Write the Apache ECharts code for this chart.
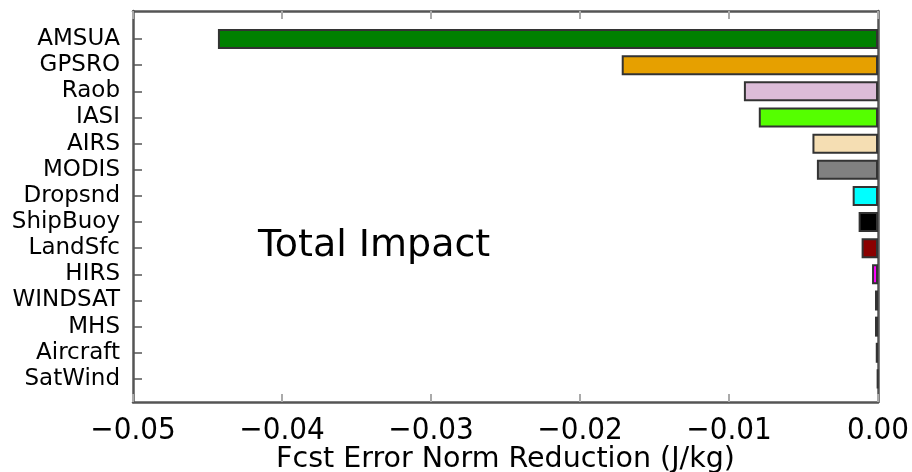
<!DOCTYPE html>
<html>
<head>
<meta charset="utf-8">
<script src="https://cdn.jsdelivr.net/npm/echarts@6/dist/echarts.min.js"></script>
<style>html,body{margin:0;padding:0;background:#fff;}#c{width:912px;height:472px;}</style>
</head>
<body>
<div id="c"></div>
<script>
const categories = ['AMSUA','GPSRO','Raob','IASI','AIRS','MODIS','Dropsnd','ShipBuoy','LandSfc','HIRS','WINDSAT','MHS','Aircraft','SatWind'];
const values = [-0.0443, -0.0172, -0.0090, -0.0080, -0.0044, -0.0041, -0.0017, -0.0013, -0.0011, -0.0004, -0.0002, -0.0002, -0.00015, -0.00005];
const xTickMin = -0.05;
const xTickMax = 0.0;
const xTickStep = 0.01;
const xAxisTitle = 'Fcst Error Norm Reduction (J/kg)';
const annotation = 'Total Impact';

const barColors = ['#008000','#e6a000','#dcbcd8','#55ff00','#f5deb3','#808080','#00ffff','#000000','#8b0000','#ff00ff','#000000','#000000','#000000','#000000'];

const chart = echarts.init(document.getElementById('c'), null, {renderer:'canvas'});
const frameLine = {show:true, onZero:false, lineStyle:{color:'#555', width:2.5}};
const fmt = v => { const r = Math.round(v*100)/100; return (r < 0 ? '\u2212' : '') + Math.abs(r).toFixed(2); };

chart.setOption({
  animation:false,
  backgroundColor:'#fff',
  grid:[
    {left:133, right:34, top:11, bottom:70, containLabel:false, outerBoundsMode:'none'},
    {left:133, right:34, top:26, bottom:80, containLabel:false, outerBoundsMode:'none'}
  ],
  xAxis:[
    {type:'value', gridIndex:0, position:'bottom', min:xTickMin, max:xTickMax, interval:xTickStep,
     axisLine:frameLine, axisTick:{show:true, inside:true, length:8, lineStyle:{color:'#aaa', width:2}},
     splitLine:{show:false},
     axisLabel:{formatter:fmt, fontFamily:'DejaVu Sans Condensed', fontSize:31, color:'#000', margin:13},
     name:xAxisTitle, nameLocation:'middle', nameGap:43, nameMoveOverlap:false,
     nameTextStyle:{fontFamily:'DejaVu Sans', fontSize:28.5, color:'#000'}},
    {type:'value', gridIndex:0, position:'top', min:xTickMin, max:xTickMax, interval:xTickStep,
     axisLine:frameLine, axisTick:{show:true, inside:true, length:8, lineStyle:{color:'#aaa', width:2}},
     splitLine:{show:false}, axisLabel:{show:false}},
    {type:'value', gridIndex:1, min:xTickMin, max:xTickMax, show:false}
  ],
  yAxis:[
    {type:'value', gridIndex:0, position:'left', min:0, max:1, axisLine:frameLine, axisTick:{show:false}, axisLabel:{show:false}, splitLine:{show:false}},
    {type:'value', gridIndex:0, position:'right', min:0, max:1, axisLine:frameLine, axisTick:{show:false}, axisLabel:{show:false}, splitLine:{show:false}},
    {type:'category', gridIndex:1, data:categories, inverse:true, position:'left',
     axisLine:{show:false, onZero:false},
     axisTick:{show:true, inside:true, alignWithLabel:true, length:9, lineStyle:{color:'#555', width:1.5}},
     axisLabel:{interval:0, fontFamily:'DejaVu Sans', fontSize:23, color:'#000', margin:13}}
  ],
  series:[{
    type:'bar', xAxisIndex:2, yAxisIndex:2,
    data: values.map((v,i)=>({value:v, itemStyle:{color:barColors[i]}})),
    barWidth:20,
    itemStyle:{borderColor:'#333', borderWidth:2},
    z:1
  }],
  graphic:[{
    type:'text', x:258, y:246,
    style:{text:annotation, font:'38px "DejaVu Sans"', fill:'#000', verticalAlign:'middle', textVerticalAlign:'middle'}
  }]
});
</script>
</body>
</html>
